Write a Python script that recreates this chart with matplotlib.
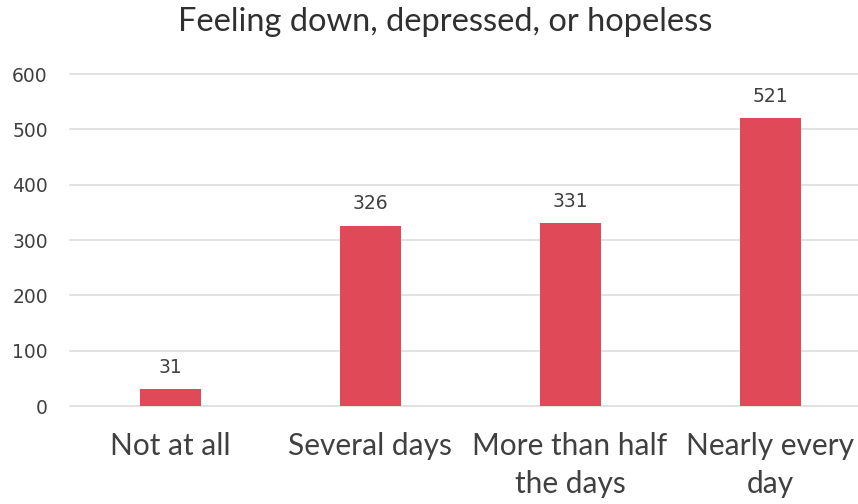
import matplotlib
matplotlib.use("Agg")
import matplotlib.pyplot as plt

categories = ["Not at all", "Several days", "More than half\nthe days", "Nearly every\nday"]
values = [31, 326, 331, 521]
yticks = [0, 100, 200, 300, 400, 500, 600]
title = "Feeling down, depressed, or hopeless"

plt.rcParams['font.family'] = ['Lato', 'DejaVu Sans']
text_color = "#404040"
bar_color = "#E04A58"

fig = plt.figure(figsize=(8.58, 5.04), dpi=100)
ax = fig.add_axes([70/858, 98/504, 1 - 70/858, (430-98)/504])

x = list(range(len(categories)))
ax.bar(x, values, width=0.305, color=bar_color, zorder=3)
for xi, v in zip(x, values):
    ax.text(xi, v + 22, str(v), ha='center', va='bottom', fontsize=13.5,
            color=text_color, family=['DejaVu Sans'])

ax.set_xlim(-0.5, 3.44)
ax.set_ylim(0, 600)
ax.set_yticks(yticks)
ax.set_yticklabels([str(t) for t in yticks], fontsize=13.5, color=text_color, family=['DejaVu Sans'])
ax.set_xticks(x)
ax.set_xticklabels(categories, fontsize=21.5, color=text_color, linespacing=1.42)
ax.tick_params(axis='x', length=0, pad=19)
ax.tick_params(axis='y', length=0, pad=16)
ax.yaxis.grid(True, color="#DDDDDD", linewidth=1.2, zorder=0)
for gl in ax.get_ygridlines():
    gl.set_clip_on(False)
for s in ax.spines.values():
    s.set_visible(False)

fig.text(0.519, 1 - 22/504, title, ha='center', va='center', fontsize=23.5, color="#303030")

fig.savefig("out.png", dpi=100)
